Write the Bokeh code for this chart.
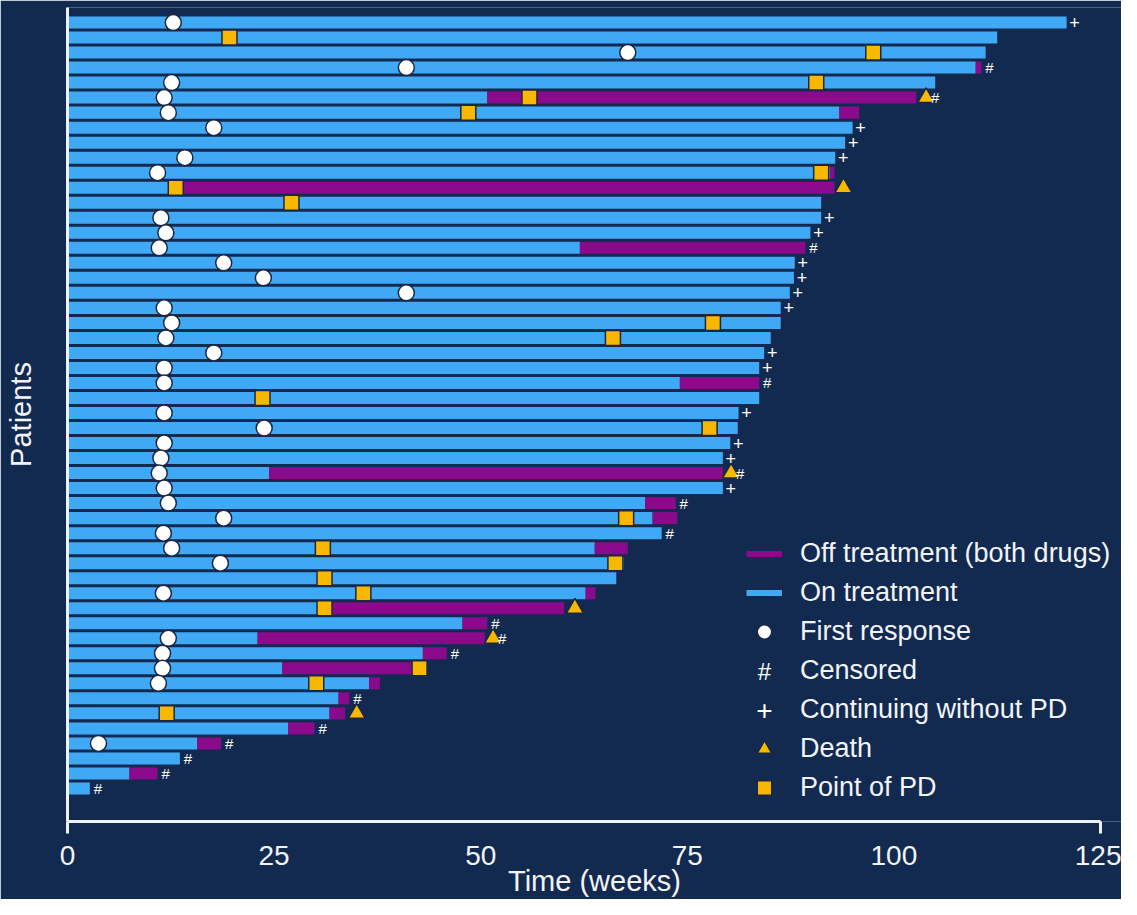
from bokeh.plotting import figure
from bokeh.models import ColumnDataSource, Legend, LegendItem, Label, FixedTicker, Range1d
from bokeh.core.properties import value
from bokeh.embed import file_html
from bokeh.resources import INLINE

# ---- data: patients listed from top to bottom (weeks) ----
on_end = [120.9, 112.5, 111.1, 109.9, 105.0, 50.8, 93.4, 95.0, 94.1, 92.9,
          92.3, 14.0, 91.2, 91.2, 89.9, 62.0, 88.0, 87.9, 87.4, 86.3,
          86.3, 85.1, 84.3, 83.7, 74.1, 83.7, 81.2, 81.1, 80.2, 79.3,
          24.4, 79.3, 69.9, 70.8, 71.9, 63.8, 67.3, 66.4, 62.7, 32.0,
          47.8, 23.0, 43.0, 26.0, 36.5, 32.8, 31.7, 26.7, 15.7, 13.6,
          7.5, 2.7]
off_end = [None, None, None, 110.6, None, 102.7, 95.8, None, None, None,
           92.8, 92.8, None, None, None, 89.3, None, None, None, None,
           None, None, None, None, 83.7, None, None, None, None, None,
           79.3, None, 73.6, 73.8, None, 67.8, None, None, 63.9, 60.1,
           50.8, 50.5, 45.9, 41.7, 37.8, 34.1, 33.6, 29.9, 18.6, None,
           10.9, None]
first_response = [12.8, None, 67.8, 41.0, 12.6, 11.7, 12.2, 17.7, None, 14.2,
                  10.9, None, None, 11.3, 11.9, 11.1, 18.9, 23.7, 41.0, 11.7,
                  12.6, 11.9, 17.7, 11.7, 11.7, None, 11.7, 23.8, 11.7, 11.3,
                  11.1, 11.7, 12.2, 18.9, 11.6, 12.6, 18.5, None, 11.6, None,
                  None, 12.2, 11.5, 11.5, 11.0, None, None, None, 3.75, None,
                  None, None]
point_of_pd = [None, 19.6, 97.5, None, 90.6, 55.9, 48.5, None, None, None,
               91.2, 13.1, 27.1, None, None, None, None, None, None, None,
               78.1, 66.0, None, None, None, 23.6, None, 77.7, None, None,
               None, None, None, 67.6, None, 30.9, 66.3, 31.1, 35.8, 31.1,
               None, None, None, 42.6, 30.1, None, 12.0, None, None, None,
               None, None]
death = [None, None, None, None, None, 103.9, None, None, None, None,
         None, 93.9, None, None, None, None, None, None, None, None,
         None, None, None, None, None, None, None, None, None, None,
         80.3, None, None, None, None, None, None, None, None, 61.4,
         None, 51.5, None, None, None, None, 35.0, None, None, None,
         None, None]
end_status = ["+", "", "", "#", "", "#", "", "+", "+", "+",
              "", "", "", "+", "+", "#", "+", "+", "+", "+",
              "", "", "+", "+", "#", "", "+", "", "+", "+",
              "#", "+", "#", "", "#", "", "", "", "", "",
              "#", "#", "#", "", "", "#", "", "#", "#", "#",
              "#", "#"]
x_ticks = [0, 25, 50, 75, 100, 125]
x_end_ticks = [0, 125]

# ---- styles ----
BG = "#132a50"
BLUE = "#3fa9f5"
PURPLE = "#8b0a8b"
GOLD = "#f9b800"
EDGE = "#1a2744"
FONT = "Liberation Sans"
NAN = float("nan")

n = len(on_end)
rows = [n - k for k in range(n)]

p = figure(width=1121, height=899, output_backend="svg", toolbar_location=None,
           x_range=Range1d(0, 127.54), y_range=Range1d(-1.2, 53.0),
           min_border_left=67, min_border_right=0, min_border_top=7, min_border_bottom=77)
p.background_fill_color = BG
p.border_fill_color = BG
p.outline_line_color = None
p.grid.visible = False

# on-treatment bars
p.hbar(y=rows, left=0, right=on_end, height=0.8, fill_color=BLUE, line_color=None)

# off-treatment bars
oy = [r for r, o in zip(rows, off_end) if o is not None]
ol = [a for a, o in zip(on_end, off_end) if o is not None]
orr = [o for o in off_end if o is not None]
p.hbar(y=oy, left=ol, right=orr, height=0.8, fill_color=PURPLE, line_color=None)

# legend proxies for bars
r_off = p.line(x=[NAN, NAN], y=[NAN, NAN], line_color=PURPLE, line_width=6)
r_on = p.line(x=[NAN, NAN], y=[NAN, NAN], line_color=BLUE, line_width=6)

# markers
fx = [v for v in first_response if v is not None]
fy = [r for r, v in zip(rows, first_response) if v is not None]
r_resp = p.scatter(x=fx, y=fy, marker="circle", size=16, fill_color="white",
                   line_color=EDGE, line_width=1.5)

px_ = [v for v in point_of_pd if v is not None]
py_ = [r for r, v in zip(rows, point_of_pd) if v is not None]
r_pd = p.scatter(x=px_, y=py_, marker="square", size=15, fill_color=GOLD,
                 line_color=EDGE, line_width=1.5)

dx = [v for v in death if v is not None]
dy = [r for r, v in zip(rows, death) if v is not None]
r_death = p.scatter(x=dx, y=dy, marker="triangle", size=17, fill_color=GOLD,
                    line_color=EDGE, line_width=1.5)

def end_base(i):
    if death[i] is not None:
        return death[i]
    if off_end[i] is not None:
        return off_end[i]
    return on_end[i]

def status_src(sym):
    xs, ys, offs = [], [], []
    for i in range(n):
        if end_status[i] == sym:
            xs.append(end_base(i))
            ys.append(rows[i])
            offs.append(9 if death[i] is not None else 8)
    return ColumnDataSource(dict(x=xs, y=ys, off=offs, t=[sym] * len(xs)))

r_cens = p.text(x="x", y="y", text="t", x_offset="off", source=status_src("#"),
                text_align="center", text_baseline="middle", text_color="white",
                text_font=value(FONT), text_font_size="15px")
r_cont = p.text(x="x", y="y", text="t", x_offset="off", source=status_src("+"),
                text_align="center", text_baseline="middle", text_color="white",
                text_font=value(FONT), text_font_size="18px")

# axes
xa = p.xaxis[0]
xa.ticker = FixedTicker(ticks=x_ticks, minor_ticks=x_end_ticks)
xa.bounds = (0, 125)
xa.axis_label = "Time (weeks)"
ya = p.yaxis[0]
ya.ticker = FixedTicker(ticks=[])
ya.axis_label = "Patients"
for ax in (xa, ya):
    ax.axis_line_color = "#eef2f7"
    ax.axis_line_width = 3
    ax.major_tick_line_color = None
    ax.minor_tick_line_color = None
    ax.major_label_text_color = "#f2f4f8"
    ax.major_label_text_font = FONT
    ax.major_label_text_font_size = "28px"
    ax.axis_label_text_color = "#f2f4f8"
    ax.axis_label_text_font = FONT
    ax.axis_label_text_font_style = "normal"
    ax.axis_label_text_font_size = "29px"
xa.minor_tick_line_color = "#eef2f7"
xa.minor_tick_line_width = 3
xa.minor_tick_in = 0
xa.minor_tick_out = 12
xa.major_tick_in = 0
xa.major_tick_out = 10
xa.major_label_standoff = 12
xa.axis_label_standoff = -3
ya.major_tick_in = 0
ya.major_tick_out = 0
ya.major_label_standoff = 0
ya.axis_label_standoff = 31

# legend
legend = Legend(items=[
    LegendItem(label="Off treatment (both drugs)", renderers=[r_off]),
    LegendItem(label="On treatment", renderers=[r_on]),
    LegendItem(label="First response", renderers=[r_resp]),
    LegendItem(label="Censored", renderers=[r_cens]),
    LegendItem(label="Continuing without PD", renderers=[r_cont]),
    LegendItem(label="Death", renderers=[r_death]),
    LegendItem(label="Point of PD", renderers=[r_pd]),
], location=(679, 14), orientation="vertical", glyph_width=36, glyph_height=39,
    label_height=39, spacing=0, padding=0, margin=0, label_standoff=18,
    label_text_font=FONT, label_text_font_size="27px", label_text_color="#f2f4f8",
    background_fill_alpha=0, border_line_alpha=0)
p.add_layout(legend)

p.add_layout(Label(x=697, y=150.5, x_units="screen", y_units="screen", text="#",
                   text_align="center", text_baseline="middle", text_color="white",
                   text_font=FONT, text_font_size="24px"))
p.add_layout(Label(x=697, y=111.5, x_units="screen", y_units="screen", text="+",
                   text_align="center", text_baseline="middle", text_color="white",
                   text_font=FONT, text_font_size="28px"))

open("out.html", "w").write(file_html(p, INLINE))
